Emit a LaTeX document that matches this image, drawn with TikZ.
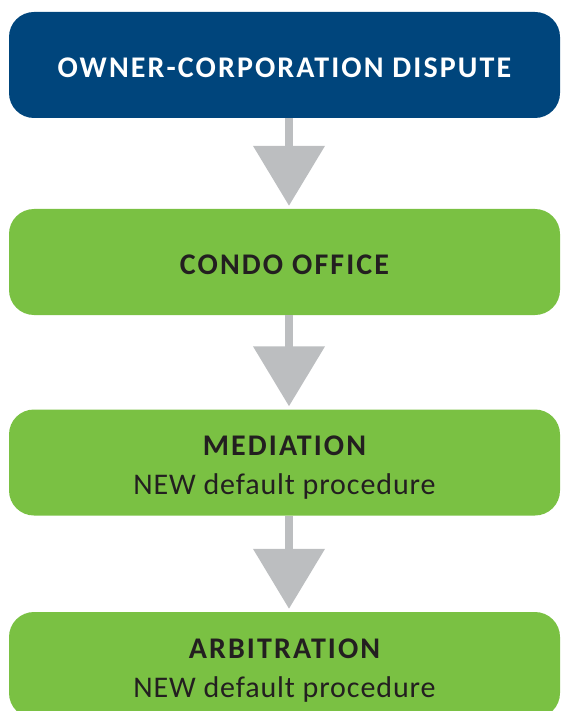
\documentclass[tikz,border=0pt]{standalone}
\usepackage{fontspec}
\setmainfont{Carlito}[LetterSpace=3]
\newfontfamily\headfont{Carlito}[LetterSpace=7]
\usetikzlibrary{arrows.meta}
\definecolor{dispblue}{HTML}{00457C}
\definecolor{stepgreen}{HTML}{7AC143}
\definecolor{flowgray}{HTML}{BCBEC0}
\definecolor{textdark}{HTML}{231F20}
\newcommand\headtext[1]{{\headfont\bfseries #1}}
\tikzset{
  box/.style={rounded corners=25pt, minimum width=551pt, minimum height=106pt,
    inner sep=0pt, align=center, font=\fontsize{30}{39}\selectfont},
  oneline/.style={box, text height=25pt, text depth=0pt},
  twoline/.style={box, text height=66pt, text depth=2pt},
  flow/.style={draw=flowgray, line width=8pt,
    -{Triangle[width=70pt,length=60pt]}, shorten >=3pt}
}

\begin{document}
\begin{tikzpicture}[x=1pt,y=-1pt]
    \useasboundingbox (0,0) rectangle (561,711);
    \clip (0,0) rectangle (561,711); % cuts the last box

    \node[oneline, fill=dispblue, text=white] (dispute) at (284.5,65) {\headtext{OWNER-CORPORATION DISPUTE}};
    \node[oneline, fill=stepgreen, text=textdark] (condo) at (284.5,262) {\headtext{CONDO OFFICE}};
    \node[twoline, fill=stepgreen, text=textdark] (mediation) at (284.5,462.5) {\headtext{MEDIATION}\\NEW default procedure};
    \node[twoline, fill=stepgreen, text=textdark] (arbitration) at (284.5,665) {\headtext{ARBITRATION}\\NEW default procedure};

    \draw[flow] ([xshift=4.5pt]dispute.south) -- ([xshift=4.5pt]condo.north);
    \draw[flow] ([xshift=4.5pt]condo.south) -- ([xshift=4.5pt]mediation.north);
    \draw[flow] ([xshift=4.5pt]mediation.south) -- ([xshift=4.5pt]arbitration.north);
  \end{tikzpicture}
\end{document}
